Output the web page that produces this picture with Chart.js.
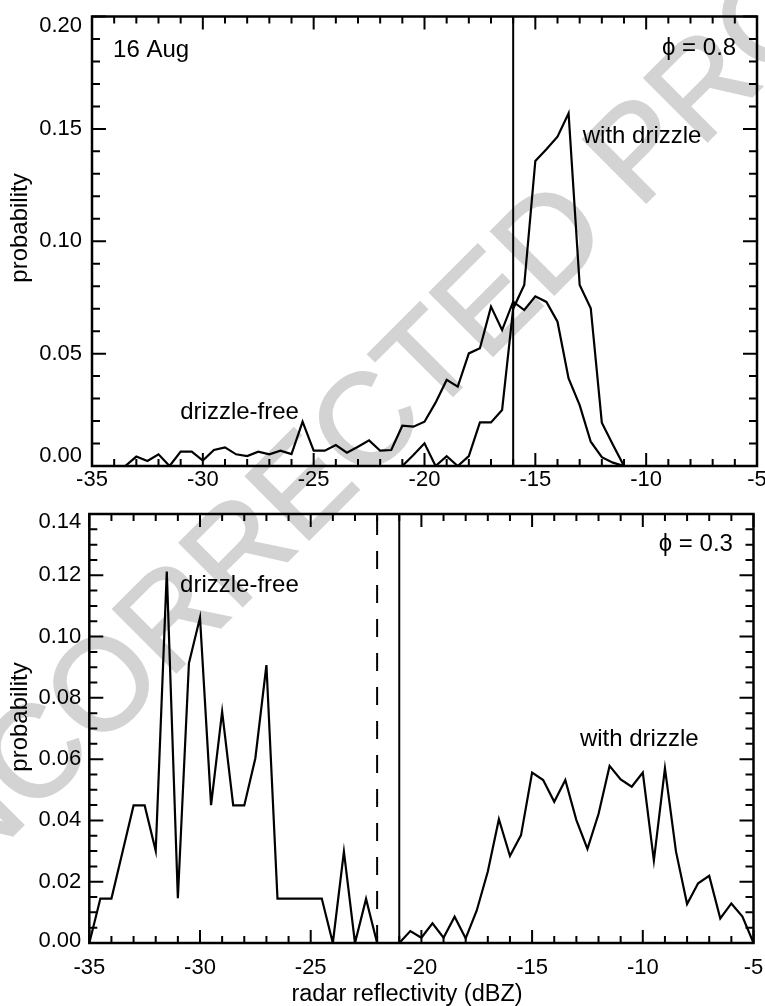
<!DOCTYPE html>
<html>
<head>
<meta charset="utf-8">
<script src="https://cdn.jsdelivr.net/npm/chart.js@4.4.1/dist/chart.umd.min.js"></script>
<style>
  html, body { margin: 0; padding: 0; background: #fff; }
  #page { position: relative; width: 765px; height: 1006px; overflow: hidden; background: #fff; }
  #stamp {
    position: absolute; left: 400px; top: 385px;
    transform: translate(-50%, -50%) rotate(-45deg);
    font: 130px "Liberation Sans", Arial, Helvetica, sans-serif;
    color: #d3d3d3; -webkit-text-stroke: 2px #d3d3d3;
    white-space: nowrap; line-height: 1;
  }
  canvas { position: absolute; left: 0; }
  #topPanel { top: 0; }
  #lowPanel { top: 495px; }
</style>
</head>
<body>
<div id="page">
  <div id="stamp">UNCORRECTED PROOF</div>
  <canvas id="topPanel" width="765" height="495"></canvas>
  <canvas id="lowPanel" width="765" height="511"></canvas>
</div>
<script>
const FONT = '"Liberation Sans", Arial, Helvetica, "DejaVu Sans", sans-serif';

// ---- 16 Aug, phi = 0.8 : reflectivity bins (dBZ) and probabilities ----
const topFreeDbz = [-35, -34.5, -34, -33.5, -33, -32.5, -32, -31.5, -31, -30.5,
                    -30, -29.5, -29, -28.5, -28, -27.5, -27, -26.5, -26, -25.5,
                    -25, -24.5, -24, -23.5, -23, -22.5, -22, -21.5, -21, -20.5,
                    -20, -19.5, -19, -18.5, -18, -17.5, -17, -16.5, -16, -15.5,
                    -15, -14.5, -14, -13.5, -13, -12.5, -12, -11.5, -11, -10.5];
const topFreeProb = [0, 0, 0, 0, 0.0042, 0.0022, 0.0052, 0, 0.0064, 0.0064,
                     0.0024, 0.0071, 0.0083, 0.0052, 0.0044, 0.0064, 0.0052, 0.0068, 0.0053, 0.0197,
                     0.0068, 0.0068, 0.0093, 0.0059, 0.0086, 0.0114, 0.0068, 0.0071, 0.0179, 0.0175,
                     0.0197, 0.0282, 0.0383, 0.0353, 0.0501, 0.0524, 0.0709, 0.0605, 0.0731, 0.0694,
                     0.0755, 0.0730, 0.0642, 0.0390, 0.0271, 0.0108, 0.0039, 0.0015, 0, 0];
const topDrizzleDbz = [-21, -20.5, -20, -19.5, -19, -18.5, -18, -17.5, -17, -16.5,
                       -16, -15.5, -15, -14.5, -14, -13.5, -13, -12.5, -12, -11.5, -11, -10.5];
const topDrizzleProb = [0, 0.0049, 0.0101, 0, 0.0044, 0, 0.0044, 0.0194, 0.0194, 0.0249,
                        0.0700, 0.0805, 0.1357, 0.1409, 0.1465, 0.1569, 0.0805, 0.0702, 0.0193, 0.0095, 0, 0];
const topThreshold = -16;

// ---- phi = 0.3 ----
const lowFreeDbz = [-35, -34.5, -34, -33.5, -33, -32.5, -32, -31.5, -31, -30.5,
                    -30, -29.5, -29, -28.5, -28, -27.5, -27, -26.5, -26, -25.5,
                    -25, -24.5, -24, -23.5, -23, -22.5, -22];
const lowFreeProb = [0, 0.0145, 0.0145, 0.0297, 0.0449, 0.0449, 0.0301, 0.1212, 0.0146, 0.0913,
                     0.1062, 0.0450, 0.0755, 0.0449, 0.0449, 0.0603, 0.0907, 0.0145, 0.0145, 0.0145,
                     0.0145, 0.0145, 0, 0.0298, 0, 0.0144, 0];
const lowDrizzleDbz = [-21, -20.5, -20, -19.5, -19, -18.5, -18, -17.5, -17, -16.5,
                       -16, -15.5, -15, -14.5, -14, -13.5, -13, -12.5, -12, -11.5,
                       -11, -10.5, -10, -9.5, -9, -8.5, -8, -7.5, -7, -6.5,
                       -6, -5.5, -5];
const lowDrizzleProb = [0, 0.0039, 0.0017, 0.0064, 0.0017, 0.0086, 0.0015, 0.0106, 0.0233, 0.0404,
                        0.0284, 0.0352, 0.0556, 0.0532, 0.0461, 0.0532, 0.0401, 0.0307, 0.0421, 0.0578,
                        0.0534, 0.0510, 0.0556, 0.0269, 0.0570, 0.0298, 0.0127, 0.0195, 0.0219, 0.0080,
                        0.0129, 0.0086, 0];
const lowThresholdSolid = -21;
const lowThresholdDashed = -22;

// ---- axis ticks ----
const xTicks = [-35, -30, -25, -20, -15, -10, -5];
const topYTicks = [0, 0.05, 0.10, 0.15, 0.20];
const lowYTicks = [0, 0.02, 0.04, 0.06, 0.08, 0.10, 0.12, 0.14];

function points(xs, ys) { return xs.map((x, i) => ({ x: x, y: ys[i] })); }
function vertical(x, y0, y1) { return [{ x: x, y: y0 }, { x: x, y: y1 }]; }

// Closed box with inward major/minor tick marks on all four sides,
// plus the probability labels (end labels pulled inside the box)
function frameTicks(p) {
  return {
    id: 'frameTicks',
    afterDatasetsDraw(chart) {
      const { ctx, chartArea: a } = chart;
      const xs = chart.scales.x, ys = chart.scales.y;
      const major = (list, v) => list.some(t => Math.abs(t - v) < 1e-7);
      ctx.save();
      ctx.strokeStyle = '#000';
      ctx.lineWidth = 2;
      ctx.beginPath();
      const nx = Math.round((xs.max - xs.min) / p.xMinor);
      for (let k = 0; k <= nx; k++) {
        const v = xs.min + k * p.xMinor;
        const px = xs.getPixelForValue(v);
        const len = major(xTicks, v) ? 13 : 7;
        ctx.moveTo(px, a.bottom); ctx.lineTo(px, a.bottom - len);
        ctx.moveTo(px, a.top); ctx.lineTo(px, a.top + len);
      }
      const ny = Math.round((ys.max - ys.min) / p.yMinor);
      for (let k = 0; k <= ny; k++) {
        const v = ys.min + k * p.yMinor;
        const py = ys.getPixelForValue(v);
        const len = major(p.yTicks, v) ? 14 : 8;
        ctx.moveTo(a.left, py); ctx.lineTo(a.left + len, py);
        ctx.moveTo(a.right, py); ctx.lineTo(a.right - len, py);
      }
      ctx.stroke();
      ctx.lineWidth = 2.5;
      ctx.strokeRect(a.left, a.top, a.right - a.left, a.bottom - a.top);

      ctx.fillStyle = '#000';
      ctx.font = '22px ' + FONT;
      ctx.textAlign = 'right';
      ctx.textBaseline = 'middle';
      const last = p.yTicks.length - 1;
      p.yTicks.forEach((v, i) => {
        let py = ys.getPixelForValue(v);
        if (i === 0) py += p.yEndShift[0];
        if (i === last) py += p.yEndShift[1];
        ctx.fillText(v.toFixed(2), a.left - p.yPad, py);
      });
      ctx.restore();
    }
  };
}

// In-plot labels (placed in data units) and axis titles
function panelText(p) {
  return {
    id: 'panelText',
    afterDraw(chart) {
      const { ctx } = chart;
      const xs = chart.scales.x, ys = chart.scales.y;
      ctx.save();
      ctx.fillStyle = '#000';
      ctx.textBaseline = 'alphabetic';
      ctx.font = '24px ' + FONT;
      p.notes.forEach(n => {
        ctx.textAlign = n.align;
        ctx.fillText(n.text, xs.getPixelForValue(n.x), ys.getPixelForValue(n.y));
      });
      p.titles.forEach(t => {
        ctx.save();
        ctx.translate(t.px, t.py);
        ctx.rotate(t.angle);
        ctx.font = t.size + 'px ' + FONT;
        ctx.textAlign = 'center';
        ctx.fillText(t.text, 0, 0);
        ctx.restore();
      });
      ctx.restore();
    }
  };
}

function panel(id, p) {
  return new Chart(document.getElementById(id), {
    type: 'line',
    data: {
      datasets: p.series.map(s => ({
        data: s.data,
        borderColor: '#000',
        borderWidth: s.width,
        borderDash: s.dash || [],
        pointRadius: 0,
        tension: 0,
        fill: false
      }))
    },
    options: {
      responsive: false,
      animation: false,
      events: [],
      layout: { padding: p.padding },
      plugins: { legend: { display: false }, tooltip: { enabled: false } },
      scales: {
        x: {
          type: 'linear', min: -35, max: -5,
          grid: { display: false, drawTicks: false },
          border: { display: false },
          afterBuildTicks: s => { s.ticks = xTicks.map(v => ({ value: v })); },
          ticks: {
            font: { family: FONT, size: 22 }, color: '#000',
            padding: p.xPad, maxRotation: 0, autoSkip: false,
            callback: v => String(v)
          },
          afterFit: s => { s.height = p.xHeight; s.paddingLeft = 0; s.paddingRight = 0; }
        },
        y: {
          type: 'linear', min: 0, max: p.yMax,
          grid: { display: false, drawTicks: false },
          border: { display: false },
          afterBuildTicks: s => { s.ticks = p.yTicks.map(v => ({ value: v })); },
          ticks: { display: false },
          afterFit: s => { s.width = p.yWidth; s.paddingTop = 0; s.paddingBottom = 0; }
        }
      }
    },
    plugins: [frameTicks(p), panelText(p)]
  });
}

panel('topPanel', {
  series: [
    { data: points(topFreeDbz, topFreeProb), width: 2.2 },
    { data: points(topDrizzleDbz, topDrizzleProb), width: 2.2 },
    { data: vertical(topThreshold, 0, 0.2), width: 2 }
  ],
  yMax: 0.2, yTicks: topYTicks, yMinor: 0.01, xMinor: 1,
  padding: { top: 16.5, right: 8, left: 0, bottom: 0 },
  yWidth: 92, xHeight: 29, xPad: 1, yPad: 10, yEndShift: [-10, 9.5],
  notes: [
    { text: '16 Aug', x: -34.05, y: 0.182, align: 'left' },
    { text: '\u03d5 = 0.8', x: -5.94, y: 0.1829, align: 'right' },
    { text: 'with drizzle', x: -12.86, y: 0.1437, align: 'left' },
    { text: 'drizzle-free', x: -31.02, y: 0.0208, align: 'left' }
  ],
  titles: [
    { text: 'probability', px: 27, py: 228, angle: -Math.PI / 2, size: 24 }
  ]
});

panel('lowPanel', {
  series: [
    { data: points(lowFreeDbz, lowFreeProb), width: 2.2 },
    { data: points(lowDrizzleDbz, lowDrizzleProb), width: 2.2 },
    { data: vertical(lowThresholdDashed, 0, 0.14), width: 2, dash: [18, 16] },
    { data: vertical(lowThresholdSolid, 0, 0.14), width: 2 }
  ],
  yMax: 0.14, yTicks: lowYTicks, yMinor: 0.005, xMinor: 1,
  padding: { top: 19, right: 11.5, left: 0, bottom: 0 },
  yWidth: 89.3, xHeight: 63, xPad: 12, yPad: 8, yEndShift: [-2, 8],
  notes: [
    { text: '\u03d5 = 0.3', x: -5.93, y: 0.1279, align: 'right' },
    { text: 'drizzle-free', x: -30.9, y: 0.1146, align: 'left' },
    { text: 'with drizzle', x: -12.84, y: 0.0643, align: 'left' }
  ],
  titles: [
    { text: 'probability', px: 27, py: 222, angle: -Math.PI / 2, size: 24 },
    { text: 'radar reflectivity (dBZ)', px: 407, py: 506, angle: 0, size: 23.5 }
  ]
});
</script>
</body>
</html>
